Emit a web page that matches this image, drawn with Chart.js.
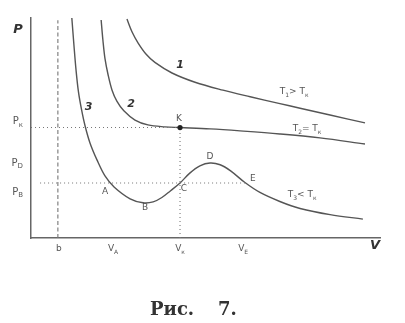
<!DOCTYPE html>
<html>
<head>
<meta charset="utf-8">
<script src="https://cdn.jsdelivr.net/npm/chart.js@4"></script>
<style>
  html, body { margin: 0; padding: 0; background: #fff; }
  #wrap { width: 405px; height: 323px; }
</style>
</head>
<body>
<div id="wrap"><canvas id="chart" width="405" height="323"></canvas></div>
<script>
// isotherm 1 (T1 > Tk)
const v1 = [2.75, 2.90, 3.07, 3.30, 3.55, 4.04, 4.70, 5.50, 6.28, 7.10, 7.71, 8.60, 9.57];
const p1 = [9.95, 9.35, 8.86, 8.35, 7.98, 7.50, 7.08, 6.72, 6.42, 6.12, 5.90, 5.58, 5.23];
// isotherm 2 (critical, T2 = Tk)
const v2 = [2.01, 2.06, 2.12, 2.21, 2.32, 2.46, 2.66, 2.98, 3.35, 3.84, 4.27, 5.13, 5.99, 7.13, 8.28, 9.57];
const p2 = [9.91, 9.00, 8.15, 7.41, 6.73, 6.22, 5.78, 5.36, 5.14, 5.05, 5.02, 4.96, 4.87, 4.73, 4.55, 4.27];
// isotherm 3 (T3 < Tk), van der Waals loop A-B-C-D-E
const v3 = [1.17, 1.23, 1.29, 1.36, 1.45, 1.55, 1.69, 1.89, 2.12, 2.38, 2.84, 3.21, 3.50, 3.75, 4.00, 4.27, 4.55, 4.84, 5.13, 5.42, 5.72, 6.13, 6.56, 7.13, 7.71, 8.57, 9.51];
const p3 = [10.0, 8.77, 7.64, 6.64, 5.82, 5.09, 4.32, 3.55, 2.82, 2.32, 1.78, 1.60, 1.64, 1.84, 2.15, 2.50, 2.95, 3.28, 3.41, 3.33, 3.05, 2.52, 2.07, 1.66, 1.34, 1.06, 0.86];

const vB = 0.77;       // covolume b
const vK = 4.27, pK = 5.02;
const pLine = 2.5, vLineStart = 0.26, vE = 6.13;

// tick labels
const xTickVals = [0.80, 2.35, 4.27, 6.08];
const xTickText = ['b', 'V_A', 'V_к', 'V_E'];
const yTickVals = [5.30, 3.41, 2.09];
const yTickText = ['P_к', 'P_D', 'P_B'];

// labels on the curves
const noteText = ['1', '2', '3', 'K', 'A', 'B', 'C', 'D', 'E', 'T_1> T_к', 'T_2= T_к', 'T_3< T_к'];
const noteV = [4.27, 2.87, 1.65, 4.24, 2.12, 3.27, 4.38, 5.13, 6.36, 7.54, 7.91, 7.77];
const noteP = [7.86, 6.09, 5.95, 5.41, 2.09, 1.36, 2.23, 3.68, 2.68, 6.64, 4.95, 1.95];

const ink = '#555';

function pts(xs, ys) {
  return xs.map((x, i) => ({ x: x, y: ys[i] }));
}

function curve(xs, ys) {
  return {
    data: pts(xs, ys), showLine: true, borderColor: ink, borderWidth: 1.4,
    pointRadius: 0, tension: 0.35, fill: false
  };
}

function guide(xs, ys, dash) {
  return {
    data: pts(xs, ys), showLine: true, borderColor: '#777', borderWidth: 1.1,
    borderDash: dash, pointRadius: 0, fill: false
  };
}

// text like "V_A": char after _ goes subscript
function drawRich(ctx, str, x, y, size, align) {
  const parts = [];
  for (let i = 0; i < str.length; i++) {
    if (str[i] === '_' && i + 1 < str.length) { parts.push([str[i + 1], true]); i++; }
    else parts.push([str[i], false]);
  }
  const big = size + 'px "DejaVu Sans"';
  const small = Math.round(size * 0.72) + 'px "DejaVu Sans"';
  let w = 0;
  parts.forEach(p => { ctx.font = p[1] ? small : big; w += ctx.measureText(p[0]).width; });
  let cx = align === 'right' ? x - w : x - w / 2;
  ctx.textBaseline = 'middle';
  ctx.textAlign = 'left';
  parts.forEach(p => {
    ctx.font = p[1] ? small : big;
    ctx.fillText(p[0], cx, p[1] ? y + size * 0.35 : y);
    cx += ctx.measureText(p[0]).width;
  });
}

const textPlugin = {
  id: 'texts',
  afterDraw(chart) {
    const ctx = chart.ctx;
    const xs = chart.scales.x, ys = chart.scales.y;
    ctx.save();
    ctx.fillStyle = '#555';
    xTickVals.forEach((v, i) => drawRich(ctx, xTickText[i], xs.getPixelForValue(v), 249, 9, 'center'));
    yTickVals.forEach((p, i) => drawRich(ctx, yTickText[i], 23, ys.getPixelForValue(p), 10, 'right'));
    noteText.forEach((t, i) => {
      const x = xs.getPixelForValue(noteV[i]), y = ys.getPixelForValue(noteP[i]);
      if (i < 3) {
        ctx.font = 'italic bold 11px "DejaVu Sans"';
        ctx.textAlign = 'center'; ctx.textBaseline = 'middle';
        ctx.fillStyle = '#333';
        ctx.fillText(t, x, y);
        ctx.fillStyle = '#555';
      } else {
        drawRich(ctx, t, x, y, 9, 'center');
      }
    });
    // axis names
    ctx.fillStyle = '#333';
    ctx.font = 'italic bold 13px "DejaVu Sans"';
    ctx.textAlign = 'center'; ctx.textBaseline = 'middle';
    ctx.fillText('P', 18, 30);
    ctx.fillText('V', 375, 246);
    // K point
    ctx.fillStyle = '#222';
    ctx.beginPath();
    ctx.arc(xs.getPixelForValue(vK), ys.getPixelForValue(pK), 2.6, 0, Math.PI * 2);
    ctx.fill();
    // caption
    ctx.fillStyle = '#333';
    ctx.font = 'bold 18px "DejaVu Serif"';
    ctx.textAlign = 'left'; ctx.textBaseline = 'alphabetic';
    ctx.fillText('Рис.', 150, 315);
    ctx.fillText('7.', 218, 315);
    ctx.restore();
  }
};

const zeroY = { afterFit(s) { s.width = 0; } };
const zeroX = { afterFit(s) { s.height = 0; } };

new Chart(document.getElementById('chart'), {
  type: 'scatter',
  data: {
    datasets: [
      guide([vB, vB], [0, 9.9], [4, 2.5]),
      guide([0, vK], [pK, pK], [1, 3]),
      guide([vK, vK], [0, pK], [1, 3]),
      guide([vLineStart, vE], [pLine, pLine], [1, 3]),
      curve(v1, p1),
      curve(v2, p2),
      curve(v3, p3)
    ]
  },
  options: {
    responsive: false,
    animation: false,
    layout: { padding: { left: 31, top: 18, right: 25, bottom: 85 } },
    plugins: { legend: { display: false }, tooltip: { enabled: false } },
    scales: {
      x: Object.assign({
        type: 'linear', min: 0, max: 10,
        grid: { display: false }, ticks: { display: false },
        border: { display: true, color: '#666', width: 1.5 }
      }, zeroX),
      y: Object.assign({
        type: 'linear', min: 0, max: 10,
        grid: { display: false }, ticks: { display: false },
        border: { display: true, color: '#666', width: 1.5 }
      }, zeroY)
    }
  },
  plugins: [textPlugin]
});
</script>
</body>
</html>
